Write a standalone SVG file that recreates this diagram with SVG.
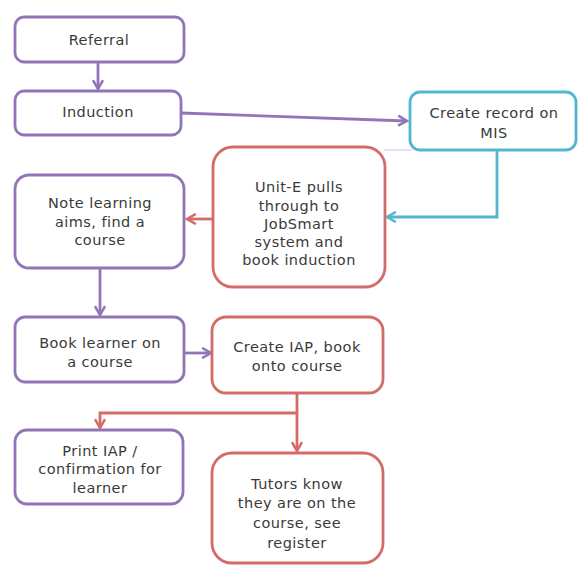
<svg xmlns="http://www.w3.org/2000/svg" width="578" height="565" viewBox="0 0 578 565">
<style>
.box{fill:#fff;stroke-width:2.8}
.p{stroke:#9275b8}
.r{stroke:#d46b68}
.b{stroke:#52b6cf}
text{font-family:"DejaVu Sans",Verdana,sans-serif;font-size:14.5px;letter-spacing:0.45px;fill:#3a3a3a;text-anchor:middle}
.c{fill:none;stroke-width:2.8}
</style>
<defs>
<marker id="ap" viewBox="0 0 10 10" refX="8" refY="5" markerWidth="4.5" markerHeight="4.5" orient="auto" markerUnits="strokeWidth">
<path d="M1,1 L8,5 L1,9" fill="none" stroke="#9275b8" stroke-width="2"/>
</marker>
<marker id="ar" viewBox="0 0 10 10" refX="8" refY="5" markerWidth="4.5" markerHeight="4.5" orient="auto" markerUnits="strokeWidth">
<path d="M1,1 L8,5 L1,9" fill="none" stroke="#d46b68" stroke-width="2"/>
</marker>
<marker id="ab" viewBox="0 0 10 10" refX="8" refY="5" markerWidth="4.5" markerHeight="4.5" orient="auto" markerUnits="strokeWidth">
<path d="M1,1 L8,5 L1,9" fill="none" stroke="#52b6cf" stroke-width="2"/>
</marker>
</defs>
<g id="connectors">
<line class="c p" x1="98" y1="62" x2="98" y2="89" marker-end="url(#ap)"/>
<line class="c p" x1="181" y1="113" x2="407" y2="121" marker-end="url(#ap)"/>
<line x1="384" y1="150" x2="412" y2="150" stroke="#c8c8f0" stroke-width="1"/>
<polyline class="c b" points="497,150 497,217 387,217" marker-end="url(#ab)"/>
<line class="c r" x1="213" y1="219" x2="187" y2="219" marker-end="url(#ar)"/>
<line class="c p" x1="100" y1="268" x2="100" y2="315" marker-end="url(#ap)"/>
<line class="c p" x1="184" y1="353" x2="211" y2="353" marker-end="url(#ap)"/>
<polyline class="c r" points="297,393 297,413 100,413 100,428" marker-end="url(#ar)"/>
<line class="c r" x1="297" y1="413" x2="297" y2="451" marker-end="url(#ar)"/>
</g>
<g id="referral"><rect class="box p" x="15" y="17" width="169" height="45" rx="9"/><text x="99" y="45">Referral</text></g>
<g id="induction"><rect class="box p" x="15" y="91" width="166" height="44" rx="9"/><text x="98" y="117">Induction</text></g>
<g id="create-record"><rect class="box b" x="410" y="92" width="166" height="58" rx="10"/><text x="494" y="118">Create record on</text><text x="494" y="138">MIS</text></g>
<g id="unit-e"><rect class="box r" x="213" y="147" width="172" height="140" rx="20"/><text x="299" y="192">Unit-E pulls</text><text x="299" y="211">through to</text><text x="299" y="229">JobSmart</text><text x="299" y="247">system and</text><text x="299" y="265">book induction</text></g>
<g id="note-aims"><rect class="box p" x="15" y="175" width="169" height="93" rx="14"/><text x="100" y="208">Note learning</text><text x="100" y="227">aims, find a</text><text x="100" y="245">course</text></g>
<g id="book-learner"><rect class="box p" x="15" y="317" width="169" height="65" rx="10"/><text x="100" y="348">Book learner on</text><text x="100" y="367">a course</text></g>
<g id="create-iap"><rect class="box r" x="212" y="317" width="171" height="76" rx="14"/><text x="297" y="352">Create IAP, book</text><text x="297" y="371">onto course</text></g>
<g id="print-iap"><rect class="box p" x="15" y="430" width="168" height="74" rx="12"/><text x="100" y="456">Print IAP /</text><text x="100" y="474">confirmation for</text><text x="100" y="493">learner</text></g>
<g id="tutors"><rect class="box r" x="212" y="453" width="171" height="110" rx="20"/><text x="297" y="489">Tutors know</text><text x="297" y="508">they are on the</text><text x="297" y="528">course, see</text><text x="297" y="548">register</text></g>
</svg>
